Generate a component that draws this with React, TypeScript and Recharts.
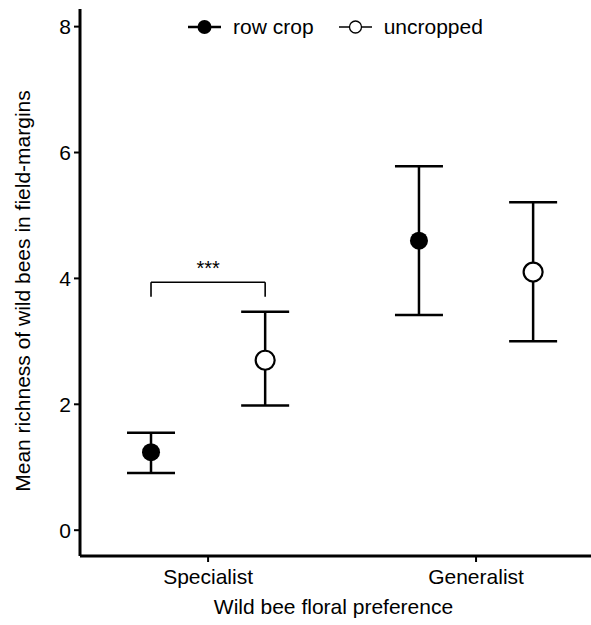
import React from 'react';
import {
	ErrorBar,
	ReferenceDot,
	ReferenceLine,
	Scatter,
	ScatterChart,
	XAxis,
	YAxis,
	Legend,
} from 'recharts';

const categories = ['Specialist', 'Generalist'];
const rowCropMean = [1.24, 4.6];
const rowCropLow = [0.91, 3.42];
const rowCropHigh = [1.55, 5.78];
const uncroppedMean = [2.7, 4.1];
const uncroppedLow = [1.98, 3.0];
const uncroppedHigh = [3.47, 5.21];
const yTicks = [0, 2, 4, 6, 8];
const bracketTop = 3.94;
const bracketTip = 3.71;
const sigLabel = '***';

const FONT = '"Liberation Sans", Arial, sans-serif';
const DODGE = 0.213;

const build = (mean: number[], low: number[], high: number[], shift: number) =>
	categories.map((c, i) => ({
		cat: c,
		x: i + 1 + shift,
		y: mean[i],
		err: [mean[i] - low[i], high[i] - mean[i]],
	}));

const rowCropData = build(rowCropMean, rowCropLow, rowCropHigh, -DODGE);
const uncroppedData = build(uncroppedMean, uncroppedLow, uncroppedHigh, DODGE);

const FilledDot = (p: any) => <circle cx={p.cx} cy={p.cy} r={9} fill="#000" />;
const OpenDot = (p: any) => (
	<circle cx={p.cx} cy={p.cy} r={9.5} fill="#fff" stroke="#000" strokeWidth={2.2} />
);

const LegendBox = () => {
	const item = (filled: boolean, text: string, gap: number) => (
		<div style={{ display: 'flex', alignItems: 'center', marginRight: gap }}>
			<svg width={33} height={20}>
				<line x1={0} y1={10} x2={33} y2={10} stroke="#000" strokeWidth={filled ? 2.5 : 1.6} />
				<circle
					cx={16.5}
					cy={10}
					r={filled ? 7 : 6}
					fill={filled ? '#000' : '#fff'}
					stroke="#000"
					strokeWidth={filled ? 0 : 1.3}
				/>
			</svg>
			<span style={{ marginLeft: 12 }}>{text}</span>
		</div>
	);
	return (
		<div
			style={{
				display: 'flex',
				justifyContent: 'center',
				fontFamily: FONT,
				fontSize: 21,
				color: '#000',
				lineHeight: '24px',
			}}
		>
			{item(true, 'row crop', 25)}
			{item(false, 'uncropped', 0)}
		</div>
	);
};

export default function App() {
	return (
		<div style={{ position: 'absolute', left: 0, top: 0, background: '#fff' }}>
			<ScatterChart
				width={591}
				height={625}
				margin={{ top: 9, right: 0, bottom: 0, left: 0 }}
			>
				<XAxis
					type="number"
					dataKey="x"
					domain={[0.522, 2.429]}
					ticks={[1, 2]}
					tickFormatter={(v) => categories[Math.round(v) - 1] ?? ''}
					height={69}
					axisLine={{ stroke: '#000', strokeWidth: 3 }}
					tickLine={{ stroke: '#000', strokeWidth: 2 }}
					tickSize={6}
					tickMargin={7}
					tick={{ fill: '#000', fontSize: 21, fontFamily: FONT }}
					allowDataOverflow
					label={{
						content: (p: any) => (
							<text
								x={p.viewBox.x + p.viewBox.width / 2 - 2}
								y={614}
								textAnchor="middle"
								fontSize={21}
								fontFamily={FONT}
								fill="#000"
							>
								Wild bee floral preference
							</text>
						),
					}}
				/>
				<YAxis
					type="number"
					dataKey="y"
					domain={[-0.41, 8.28]}
					ticks={yTicks}
					width={80}
					axisLine={{ stroke: '#000', strokeWidth: 3 }}
					tickLine={{ stroke: '#000', strokeWidth: 2 }}
					tickSize={6}
					tickMargin={3}
					tick={{ fill: '#000', fontSize: 21, fontFamily: FONT }}
					allowDataOverflow
					label={{
						content: () => (
							<text
								x={22}
								y={291}
								transform="rotate(-90 22 291)"
								textAnchor="middle"
								dominantBaseline="central"
								fontSize={21}
								fontFamily={FONT}
								fill="#000"
							>
								Mean richness of wild bees in field-margins
							</text>
						),
					}}
				/>
				<Legend
					layout="horizontal"
					verticalAlign="middle"
					align="center"
					content={() => <LegendBox />}
					wrapperStyle={{ top: 15, left: 80, width: 511 }}
				/>
				<ReferenceLine
					segment={[
						{ x: 1 - DODGE, y: bracketTop },
						{ x: 1 + DODGE, y: bracketTop },
					]}
					stroke="#000"
					strokeWidth={1.6}
				/>
				<ReferenceLine
					segment={[
						{ x: 1 - DODGE, y: bracketTop },
						{ x: 1 - DODGE, y: bracketTip },
					]}
					stroke="#000"
					strokeWidth={1.6}
				/>
				<ReferenceLine
					segment={[
						{ x: 1 + DODGE, y: bracketTop },
						{ x: 1 + DODGE, y: bracketTip },
					]}
					stroke="#000"
					strokeWidth={1.6}
				/>
				<ReferenceDot
					x={1}
					y={bracketTop}
					r={0}
					stroke="none"
					fill="none"
					label={{
						content: (p: any) => (
							<text
								x={p.viewBox.x}
								y={p.viewBox.y - 7}
								textAnchor="middle"
								fontSize={20}
								fontFamily={FONT}
								fill="#000"
							>
								{sigLabel}
							</text>
						),
					}}
				/>
				<Scatter
					name="row crop"
					data={rowCropData}
					shape={FilledDot}
					isAnimationActive={false}
				>
					<ErrorBar dataKey="err" direction="y" width={24} stroke="#000" strokeWidth={2.5} />
				</Scatter>
				<Scatter
					name="uncropped"
					data={uncroppedData}
					shape={OpenDot}
					isAnimationActive={false}
				>
					<ErrorBar dataKey="err" direction="y" width={24} stroke="#000" strokeWidth={2.5} />
				</Scatter>
			</ScatterChart>
		</div>
	);
}
